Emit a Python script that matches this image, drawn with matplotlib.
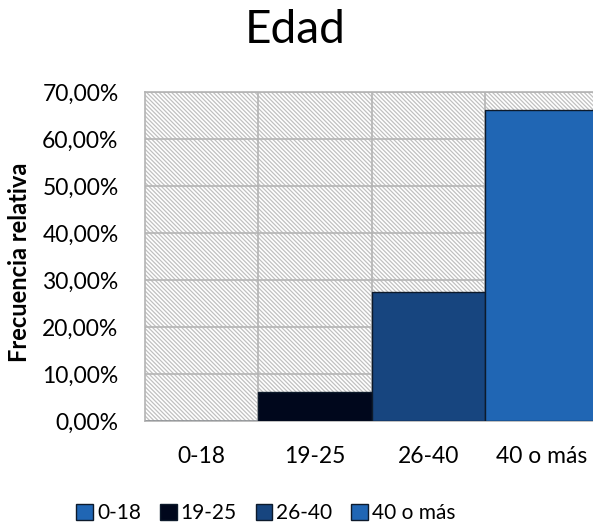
import matplotlib.pyplot as plt
from matplotlib.patches import Patch, Rectangle
from matplotlib.ticker import FuncFormatter

plt.rcParams['font.family'] = ['Lato', 'DejaVu Sans']
plt.rcParams['hatch.color'] = '#c0c0c0'
plt.rcParams['hatch.linewidth'] = 0.9

# frecuencia relativa por grupo de edad
grupos = ['0-18', '19-25', '26-40', '40 o más']
frecuencia = [0.0, 0.0625, 0.275, 0.6625]
colores = ['#2066b4', '#00071c', '#17457f', '#2066b4']

fig = plt.figure(figsize=(5.93, 5.24), dpi=100)
ax = fig.add_axes([145 / 593, 1 - 421 / 524, 453 / 593, 329 / 524])

# fondo rayado del area de trazado
ax.add_patch(Rectangle((0, 0), 1, 1, transform=ax.transAxes, facecolor='white',
                       edgecolor='#c0c0c0', hatch='\\\\\\\\\\\\\\\\', linewidth=0, zorder=0))

x = range(len(grupos))
ax.bar(x, frecuencia, width=1.0, color=colores, edgecolor='#0d1a2b', linewidth=1.0, zorder=3)

ax.set_xlim(-0.5, 3.5)
ax.set_ylim(0, 0.7)
ax.set_yticks([i / 10 for i in range(8)])
ax.yaxis.set_major_formatter(FuncFormatter(lambda v, p: f'{v * 100:.2f}%'.replace('.', ',')))
ax.set_xticks(list(x))
ax.set_xticklabels(grupos)

# lineas de division horizontales y verticales
for v in [i / 10 for i in range(1, 8)]:
    ax.axhline(v, color='#b4b4b4', linewidth=1.2, zorder=1)
for v in [0.5, 1.5, 2.5]:
    ax.axvline(v, color='#b4b4b4', linewidth=1.2, zorder=1)

for s in ax.spines.values():
    s.set_color('#b4b4b4')
    s.set_linewidth(1.2)
ax.tick_params(axis='both', length=0, labelsize=16.5)
ax.tick_params(axis='y', pad=19)
ax.tick_params(axis='x', pad=18)

fig.text(295 / 593, 1 - 30 / 524, 'Edad', ha='center', va='center', fontsize=33)
fig.text(20 / 593, 1 - 262 / 524, 'Frecuencia relativa', rotation=90,
         ha='center', va='center', fontsize=17, fontweight='bold')

handles = [Patch(facecolor=c, edgecolor='#0d1a2b', linewidth=1.0) for c in colores]
fig.legend(handles, grupos, loc='center', bbox_to_anchor=(266 / 593, 1 - 513 / 524),
           ncol=4, frameon=False, fontsize=15, handlelength=0.8, handleheight=0.8,
           handletextpad=0.2, columnspacing=0.9)

fig.savefig('out.png', dpi=100)
